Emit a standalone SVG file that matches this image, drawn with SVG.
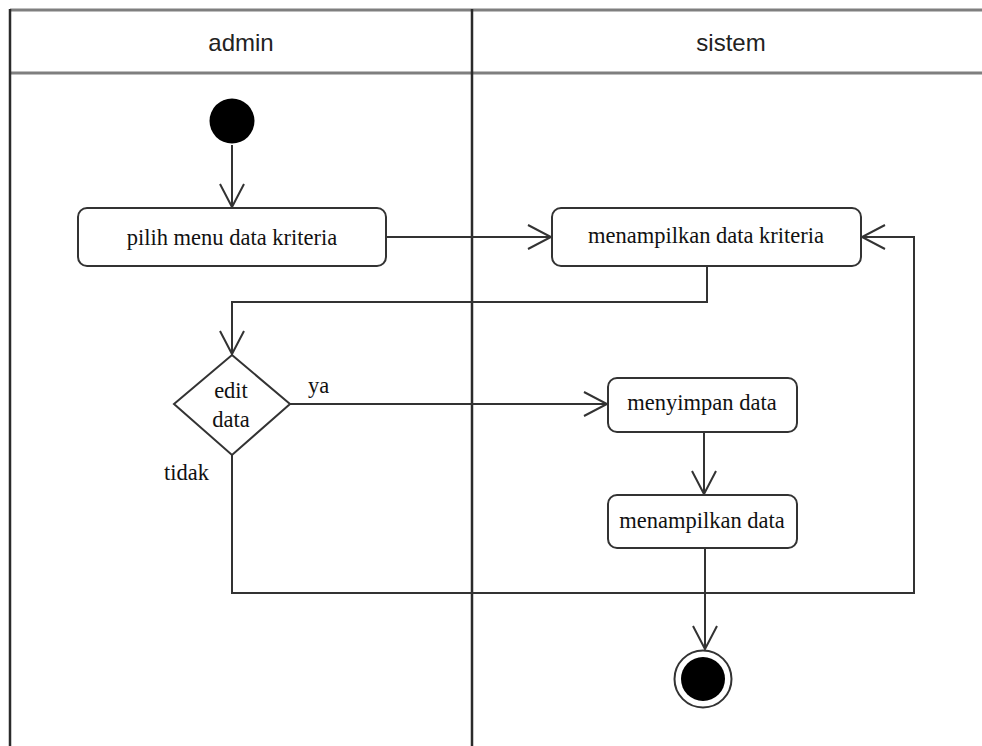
<svg xmlns="http://www.w3.org/2000/svg" width="982" height="746" viewBox="0 0 982 746">
  <style>
    .lane-rule { stroke: #7f7f7f; stroke-width: 3; fill: none; }
    .lane-edge { stroke: #2b2b2b; stroke-width: 2.5; fill: none; }
    .lane-title { font-family: "Liberation Sans", Arial, sans-serif; font-size: 24px; fill: #222; text-anchor: middle; }
    .action { fill: #fff; stroke: #333; stroke-width: 2; }
    .label { font-family: "Liberation Serif", "Times New Roman", serif; font-size: 22.5px; fill: #111; text-anchor: middle; }
    .guard { font-family: "Liberation Serif", "Times New Roman", serif; font-size: 22.5px; fill: #111; }
    .flow { stroke: #333; stroke-width: 2; fill: none; }
  </style>
  <defs>
    <marker id="open-arrow" markerUnits="userSpaceOnUse" viewBox="-26 -14 28 28" refX="0" refY="0" markerWidth="28" markerHeight="28" orient="auto" overflow="visible">
      <path d="M -23 -12 L 0 0 L -23 12" fill="none" stroke="#333" stroke-width="2"/>
    </marker>
  </defs>

  <rect width="982" height="746" fill="#fff"/>

  <!-- swimlane frame -->
  <g id="lanes">
    <line class="lane-rule" x1="10" y1="10" x2="982" y2="10"/>
    <line class="lane-rule" x1="10" y1="73" x2="982" y2="73"/>
    <line class="lane-edge" x1="10" y1="9" x2="10" y2="746"/>
    <line class="lane-edge" x1="472" y1="9" x2="472" y2="746" stroke-width="2"/>
    <text class="lane-title" x="241" y="51">admin</text>
    <text class="lane-title" x="731" y="51">sistem</text>
  </g>

  <!-- control flows -->
  <g id="connectors">
    <path class="flow" d="M232 145 V207" marker-end="url(#open-arrow)"/>
    <path class="flow" d="M386 237 H551" marker-end="url(#open-arrow)"/>
    <path class="flow" d="M707 266 V302 H232 V354" marker-end="url(#open-arrow)"/>
    <path class="flow" d="M290 404 H607" marker-end="url(#open-arrow)"/>
    <path class="flow" d="M704 432 V494" marker-end="url(#open-arrow)"/>
    <path class="flow" d="M705 548 V649" marker-end="url(#open-arrow)"/>
    <path class="flow" d="M232 455 V593 H914 V237 H862" marker-end="url(#open-arrow)"/>
    <text class="guard" x="308" y="393">ya</text>
    <text class="guard" x="164" y="480">tidak</text>
  </g>

  <g id="start">
    <circle cx="232" cy="121" r="22.5" fill="#000"/>
  </g>

  <g id="pilih-menu">
    <rect class="action" x="78" y="208" width="308" height="58" rx="9"/>
    <text class="label" x="232" y="245">pilih menu data kriteria</text>
  </g>

  <g id="tampil-kriteria">
    <rect class="action" x="552" y="208" width="309" height="58" rx="9"/>
    <text class="label" x="706" y="243">menampilkan data kriteria</text>
  </g>

  <g id="edit-data">
    <polygon class="action" points="232,355 290,404 232,455 174,404"/>
    <text class="label" x="231" y="398">edit</text>
    <text class="label" x="231" y="427">data</text>
  </g>

  <g id="simpan-data">
    <rect class="action" x="608" y="378" width="189" height="54" rx="9"/>
    <text class="label" x="702" y="410">menyimpan data</text>
  </g>

  <g id="tampil-data">
    <rect class="action" x="608" y="495" width="189" height="53" rx="9"/>
    <text class="label" x="702" y="528">menampilkan data</text>
  </g>

  <g id="end">
    <circle cx="703" cy="679" r="28.5" fill="#fff" stroke="#333" stroke-width="2"/>
    <circle cx="703" cy="679" r="22" fill="#000"/>
  </g>
</svg>
